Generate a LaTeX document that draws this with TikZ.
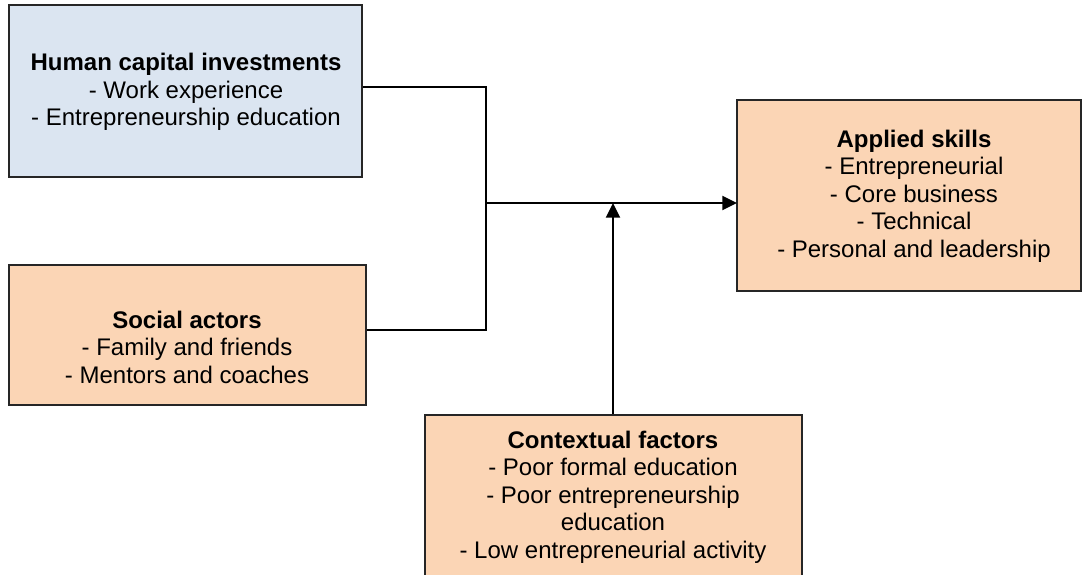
\documentclass[tikz,border=0pt]{standalone}
\usepackage{fontspec}
\setmainfont{Liberation Sans}
\usetikzlibrary{arrows.meta,fit}
\definecolor{bluefill}{HTML}{DBE5F1}
\definecolor{tanfill}{HTML}{FBD5B5}
\definecolor{edge}{HTML}{262626}
\begin{document}
\begin{tikzpicture}[x=0.75pt,y=-0.75pt,
  box/.style={draw=edge,line width=1.5pt,inner sep=0pt},
  txt/.style={align=center,font=\fontsize{18}{20.6}\selectfont,inner sep=0pt},
  conn/.style={line width=1.5pt,black},
  tip/.style={-{Triangle[length=11pt,width=10.5pt]}}]
\useasboundingbox (0,0) rectangle (1083,575);
% boxes
\node[box,fill=bluefill,fit={(9,5) (362,177)}] (hc) {};
\node[box,fill=tanfill,fit={(9,265) (366,405)}] (sa) {};
\node[box,fill=tanfill,fit={(737,100) (1081,291)}] (as) {};
\node[box,fill=tanfill,fit={(425,415) (802,590)}] (cf) {};
% texts
\node[txt] (hct) at (186,92) {\textbf{Human capital investments}\\- Work experience\\- Entrepreneurship education};
\node[txt] (sat) at (187,347) {\textbf{Social actors}\\- Family and friends\\- Mentors and coaches};
\node[txt] (ast) at (914,196) {\textbf{Applied skills}\\- Entrepreneurial\\- Core business\\- Technical\\- Personal and leadership};
\node[txt] (cft) at (613,497) {\textbf{Contextual factors}\\- Poor formal education\\- Poor entrepreneurship\\education\\- Low entrepreneurial activity};
% connector points
\coordinate (j1) at (486,87);
\coordinate (j2) at (486,330);
\coordinate (jm) at (486,203);
\coordinate (ain) at (737,203);
\coordinate (up) at (613,203);
\draw[conn] (hc.east |- j1) -- (j1) -- (j2) -- (sa.east |- j2);
\draw[conn,tip] (jm) -- (ain);
\draw[conn,tip] (cf.north -| up) -- (up);
\end{tikzpicture}
\end{document}
